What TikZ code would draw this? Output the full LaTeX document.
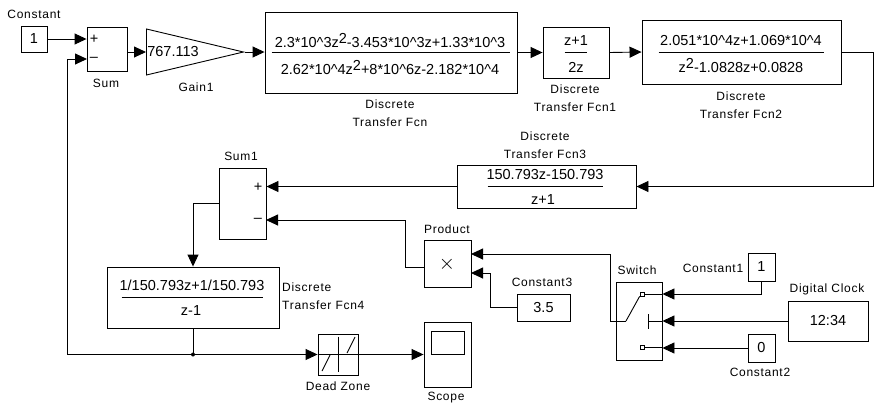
\documentclass[tikz,border=0pt]{standalone}
\usepackage{fontspec}
\setmainfont{Liberation Sans}
\newfontfamily\lblfont[LetterSpace=6]{Liberation Sans}
\usetikzlibrary{arrows.meta,shapes.geometric}
\newcommand{\supII}{\raisebox{4pt}{2}}
\tikzset{
    block/.style={draw, line width=0.9pt, inner sep=0pt, font=\fontsize{14.5}{16}\selectfont},
    txt/.style={inner sep=0pt, font=\fontsize{14.5}{16}\selectfont},
    lbl/.style={inner sep=0pt, font=\fontsize{12}{14}\lblfont},
    wire/.style={line width=0.9pt},
    sig/.style={wire, ->},
    port/.style={draw, line width=0.8pt, fill=white, inner sep=0pt, minimum size=4pt}
}
\begin{document}
\begin{tikzpicture}[x=1pt, y=-1pt, >={Triangle[length=12pt,width=11pt]}]
    \useasboundingbox (0,0) rectangle (874,402);

    % 1. Top row of blocks
    \node[block, minimum width=26pt, minimum height=26pt] (const) at (34,39) {1};
    \node[block, minimum width=40pt, minimum height=44pt] (sum) at (107,49) {};
    \node[block, isosceles triangle, isosceles triangle stretches, minimum width=46pt, minimum height=97pt, anchor=lower side] (gain) at (146,52) {};
    \node[block, minimum width=252pt, minimum height=81pt] (tf) at (391,52.5) {};
    \node[block, minimum width=66pt, minimum height=51pt] (tfa) at (576,52.5) {};
    \node[block, minimum width=199pt, minimum height=64pt] (tfb) at (741.5,52) {};

    % 2. Lower blocks
    \node[block, minimum width=179pt, minimum height=43pt] (tfc) at (546.5,186.5) {};
    \node[block, minimum width=47pt, minimum height=71pt] (suma) at (242.5,203.5) {};
    \node[block, minimum width=172pt, minimum height=61pt] (tfd) at (193,297.5) {};
    \node[block, minimum width=47pt, minimum height=47pt] (prod) at (447.5,263.5) {};
    \node[block, minimum width=53pt, minimum height=27pt] (consc) at (543.5,307.5) {3.5};
    \node[block, minimum width=46pt, minimum height=78pt] (switch) at (639,321) {};
    \node[block, minimum width=27pt, minimum height=28pt] (consa) at (761.5,267) {1};
    \node[block, minimum width=27pt, minimum height=28pt] (consb) at (761.5,348) {0};
    \node[block, minimum width=80pt, minimum height=40pt] (clock) at (828,321) {12:34};
    \node[block, minimum width=40pt, minimum height=41pt] (dead) at (338,354.5) {};
    \node[block, minimum width=47pt, minimum height=65pt] (scope) at (447.5,354.5) {};

    % 3. Text inside the blocks
    \node[txt] (plus) at (94,39) {+};
    \node[txt] (minus) at (94,59) {--};
    \node[txt] (gainval) at (173,52) {767.113};
    \node[txt] (tfnum) at (390,41) {2.3*10\^{}3z\supII-3.453*10\^{}3z+1.33*10\^{}3};
    \node[txt] (tfden) at (390,68) {2.62*10\^{}4z\supII+8*10\^{}6z-2.182*10\^{}4};
    \node[txt] (tfanum) at (576,41) {z+1};
    \node[txt] (tfaden) at (576,67) {2z};
    \node[txt] (tfbnum) at (741,41) {2.051*10\^{}4z+1.069*10\^{}4};
    \node[txt] (tfbden) at (741,66) {z\supII-1.0828z+0.0828};
    \node[txt] (tfcnum) at (545,175) {150.793z-150.793};
    \node[txt] (tfcden) at (543,200) {z+1};
    \node[txt] (sumaplus) at (258,187) {+};
    \node[txt] (sumaminus) at (258,220) {--};
    \node[txt] (tfdnum) at (192,285) {1/150.793z+1/150.793};
    \node[txt] (tfdden) at (191,311) {z-1};
    \node[txt, font=\fontsize{20}{20}\selectfont] (prodsign) at (447,264) {$\times$};

    % 4. Block names
    \node[lbl] (constname) at (34,14) {Constant};
    \node[lbl] (sumname) at (106,83) {Sum};
    \node[lbl] (gainname) at (196,87) {Gain1};
    \node[lbl, align=center] (tfname) at (390,113) {Discrete\\[4pt]Transfer Fcn};
    \node[lbl, align=center] (tfaname) at (575,98) {Discrete\\[4pt]Transfer Fcn1};
    \node[lbl, align=center] (tfbname) at (741,105) {Discrete\\[4pt]Transfer Fcn2};
    \node[lbl, align=center] (tfcname) at (545,145.5) {Discrete\\[4pt]Transfer Fcn3};
    \node[lbl] (sumaname) at (241,156) {Sum1};
    \node[lbl, align=left, anchor=west] (tfdname) at (282,296.5) {Discrete\\[4pt]Transfer Fcn4};
    \node[lbl] (prodname) at (447,229) {Product};
    \node[lbl] (conscname) at (542,282) {Constant3};
    \node[lbl] (switchname) at (637,270) {Switch};
    \node[lbl] (consaname) at (713,268) {Constant1};
    \node[lbl] (clockname) at (827,289) {Digital Clock};
    \node[lbl] (consbname) at (760,372) {Constant2};
    \node[lbl] (deadname) at (338,386) {Dead Zone};
    \node[lbl] (scopename) at (446,398) {Scope};

    % 5. Fraction bars
    \draw[wire] ([xshift=7pt]tf.west) -- ([xshift=-7pt]tf.east);
    \draw[wire] ([xshift=22pt]tfa.west) -- ([xshift=-22pt]tfa.east);
    \draw[wire] ([xshift=17pt]tfb.west) -- ([xshift=-17pt]tfb.east);
    \draw[wire] ([xshift=31pt]tfc.west) -- ([xshift=-33pt]tfc.east);
    \draw[wire] ([xshift=15pt]tfd.west) -- ([xshift=-16pt]tfd.east);

    % 6. Connectors of the forward path
    \coordinate (sumin) at (87,59);
    \coordinate (junction) at (193,354.5);
    \coordinate (sumaminusin) at (266,220);
    \coordinate (prodouta) at (424,267);
    \coordinate (prodina) at (471,254);
    \coordinate (prodinb) at (471,273);
    \draw[sig] (const.east) -- (sum.west |- const.east);
    \draw[sig] (sum.east |- gain.lower side) -- (gain.lower side);
    \draw[sig] (gain.apex) -- (tf.west |- gain.apex);
    \draw[sig] (tf.east) -- (tfa.west);
    \draw[sig] (tfa.east) -- (tfb.west);
    \draw[sig] (tfb.east) -- (873,52) |- (tfc.east);
    \draw[sig] (tfc.west) -- (suma.east |- tfc.west);
    \draw[sig] (suma.west) -| (tfd.north);
    \draw[wire] (tfd.south) -- (junction);
    \fill (junction) circle (2pt);
    \draw[sig] (junction) -- (dead.west);
    \draw[sig] (dead.east) -- (scope.west);
    \draw[sig] (junction) -- (67,354.5) |- (sumin);

    % 7. Connectors round the switch
    \coordinate (pivot) at (626,321);
    \node[port] (upper) at (642,294) {};
    \node[port] (lower) at (642,347) {};
    \draw[sig] (prodouta -| prod.west) -- (405,267) |- (sumaminusin);
    \draw[sig] (pivot) -- (610,321) |- (prodina);
    \draw[sig] (consc.west) -| (490,273) -- (prodinb);
    \draw[sig] (consa.south) |- (switch.east |- upper);
    \draw[sig] (clock.west) -- (switch.east);
    \draw[sig] (consb.west) -- (switch.east |- consb.west);
    \draw[wire] (upper.east) -- (switch.east |- upper);
    \draw[wire] (lower.east) -- (switch.east |- lower);
    \draw[wire] (pivot) -- (upper.south west);
    \draw[wire] (648,314) -- (648,329);
    \draw[wire] (648,321) -- (switch.east);

    % 8. Drawings inside Dead Zone and Scope
    \draw[wire] (dead.north) ++(0,3) -- ++(0,35);
    \draw[wire] (dead.west) -- (dead.east);
    \draw[wire] (347,353) -- (355,337);
    \draw[wire] (322,371) -- (330,355);
    \draw[wire] (431,331) rectangle (464,354);
\end{tikzpicture}
\end{document}
